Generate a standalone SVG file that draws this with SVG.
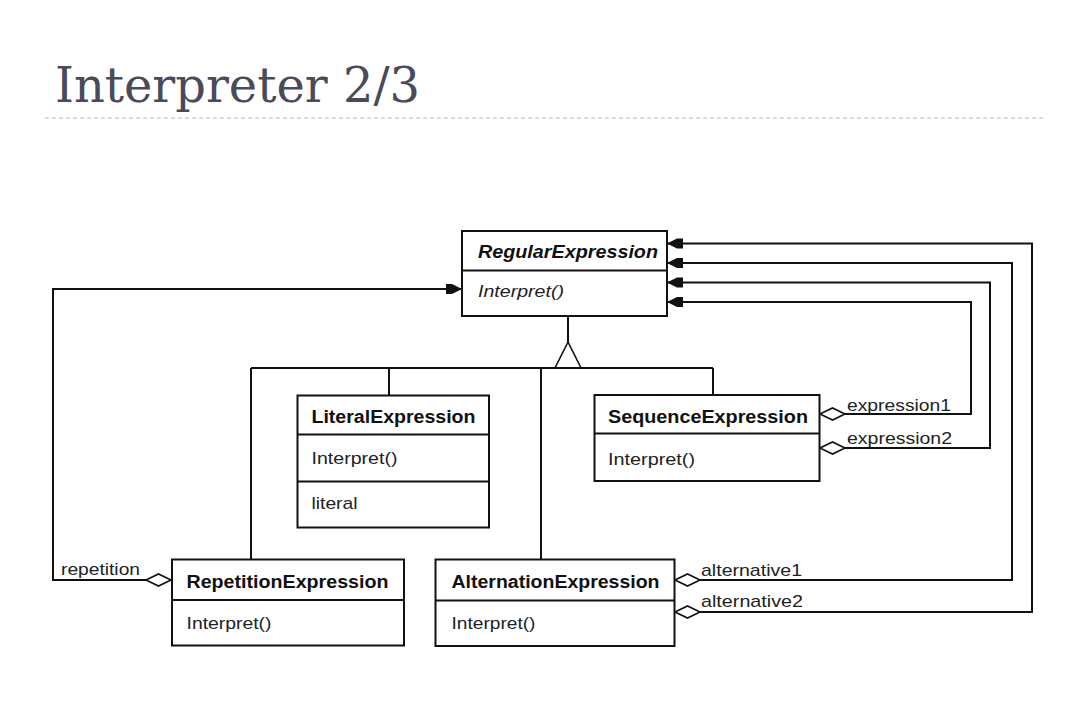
<svg xmlns="http://www.w3.org/2000/svg" width="1090" height="721" viewBox="0 0 1090 721">
<style>
.box{fill:#fff;stroke:#111;stroke-width:2}
.div{stroke:#111;stroke-width:2}
.ln{fill:none;stroke:#111;stroke-width:2}
.dia{fill:#fff;stroke:#111;stroke-width:1.6}
.cn{font-family:"Liberation Sans",Arial,sans-serif;font-weight:bold;font-size:18px;fill:#111}
.op{font-family:"Liberation Sans",Arial,sans-serif;font-size:17px;fill:#222}
.lb{font-family:"Liberation Sans",Arial,sans-serif;font-size:17px;fill:#222}
.it{font-style:italic}
.title{font-family:"DejaVu Serif","Liberation Serif",serif;font-size:48px;fill:#4a4a58}
</style>
<defs>
<marker id="arr" viewBox="0 0 16 12" refX="16" refY="6" markerWidth="16" markerHeight="12" markerUnits="userSpaceOnUse" orient="auto">
<path d="M0,1 L6,1 L16,6 L6,11 L0,11 Z" fill="#111"/>
</marker>
</defs>
<rect width="1090" height="721" fill="#fff"/>
<g id="title">
<text class="title" x="55" y="102" textLength="365" lengthAdjust="spacingAndGlyphs">Interpreter 2/3</text>
<line x1="45" y1="118" x2="1045" y2="118" stroke="#a9bccb" stroke-width="1" stroke-dasharray="4 3"/>
</g>
<g id="connectors">
<line class="ln" x1="568" y1="316" x2="568" y2="342"/>
<polygon points="568,342 555,368 581,368" fill="#fff" stroke="#111" stroke-width="1.6"/>
<line class="ln" x1="251" y1="368" x2="713" y2="368"/>
<line class="ln" x1="251" y1="368" x2="251" y2="559"/>
<line class="ln" x1="389" y1="368" x2="389" y2="395"/>
<line class="ln" x1="541" y1="368" x2="541" y2="559"/>
<line class="ln" x1="713" y1="368" x2="713" y2="395"/>
<polyline class="ln" points="146,580 53,580 53,289 462,289" marker-end="url(#arr)"/>
<polygon class="dia" points="146,580 158.5,574 171,580 158.5,586"/>
<polyline class="ln" points="845,414 971,414 971,302 667,302" marker-end="url(#arr)"/>
<polygon class="dia" points="820,414 832.5,408 845,414 832.5,420"/>
<polyline class="ln" points="845,448 990,448 990,282.5 667,282.5" marker-end="url(#arr)"/>
<polygon class="dia" points="820,448 832.5,442 845,448 832.5,454"/>
<polyline class="ln" points="700,580 1012,580 1012,263 667,263" marker-end="url(#arr)"/>
<polygon class="dia" points="675,580 687.5,574 700,580 687.5,586"/>
<polyline class="ln" points="700,612 1032,612 1032,243.5 667,243.5" marker-end="url(#arr)"/>
<polygon class="dia" points="675,612 687.5,606 700,612 687.5,618"/>
<text class="lb" x="61" y="575" textLength="79" lengthAdjust="spacingAndGlyphs">repetition</text>
<text class="lb" x="847" y="411" textLength="104" lengthAdjust="spacingAndGlyphs">expression1</text>
<text class="lb" x="847" y="444" textLength="105" lengthAdjust="spacingAndGlyphs">expression2</text>
<text class="lb" x="701" y="576" textLength="101" lengthAdjust="spacingAndGlyphs">alternative1</text>
<text class="lb" x="701" y="607" textLength="102" lengthAdjust="spacingAndGlyphs">alternative2</text>
</g>
<g id="RegularExpression">
<rect class="box" x="462" y="231" width="205" height="85"/>
<line class="div" x1="462" y1="270.5" x2="667" y2="270.5"/>
<text class="cn it" x="478" y="258" textLength="180" lengthAdjust="spacingAndGlyphs">RegularExpression</text>
<text class="op it" x="478" y="297" textLength="86" lengthAdjust="spacingAndGlyphs">Interpret()</text>
</g>
<g id="LiteralExpression">
<rect class="box" x="297.5" y="395.5" width="191.5" height="132"/>
<line class="div" x1="297.5" y1="434.5" x2="489" y2="434.5"/>
<line class="div" x1="297.5" y1="481.5" x2="489" y2="481.5"/>
<text class="cn" x="311.5" y="423" textLength="164" lengthAdjust="spacingAndGlyphs">LiteralExpression</text>
<text class="op" x="311.5" y="464" textLength="86" lengthAdjust="spacingAndGlyphs">Interpret()</text>
<text class="op" x="311.5" y="509" textLength="46" lengthAdjust="spacingAndGlyphs">literal</text>
</g>
<g id="SequenceExpression">
<rect class="box" x="594.5" y="395" width="225" height="86"/>
<line class="div" x1="594.5" y1="433.5" x2="819.5" y2="433.5"/>
<text class="cn" x="608" y="423" textLength="200" lengthAdjust="spacingAndGlyphs">SequenceExpression</text>
<text class="op" x="608" y="465" textLength="87" lengthAdjust="spacingAndGlyphs">Interpret()</text>
</g>
<g id="RepetitionExpression">
<rect class="box" x="172" y="559.5" width="232" height="86"/>
<line class="div" x1="172" y1="600" x2="404" y2="600"/>
<text class="cn" x="186.5" y="588" textLength="202" lengthAdjust="spacingAndGlyphs">RepetitionExpression</text>
<text class="op" x="186.5" y="628.5" textLength="85" lengthAdjust="spacingAndGlyphs">Interpret()</text>
</g>
<g id="AlternationExpression">
<rect class="box" x="435.5" y="559.5" width="239" height="86.5"/>
<line class="div" x1="435.5" y1="600.5" x2="674.5" y2="600.5"/>
<text class="cn" x="451.5" y="588" textLength="208" lengthAdjust="spacingAndGlyphs">AlternationExpression</text>
<text class="op" x="451.5" y="628.5" textLength="84" lengthAdjust="spacingAndGlyphs">Interpret()</text>
</g>
</svg>
